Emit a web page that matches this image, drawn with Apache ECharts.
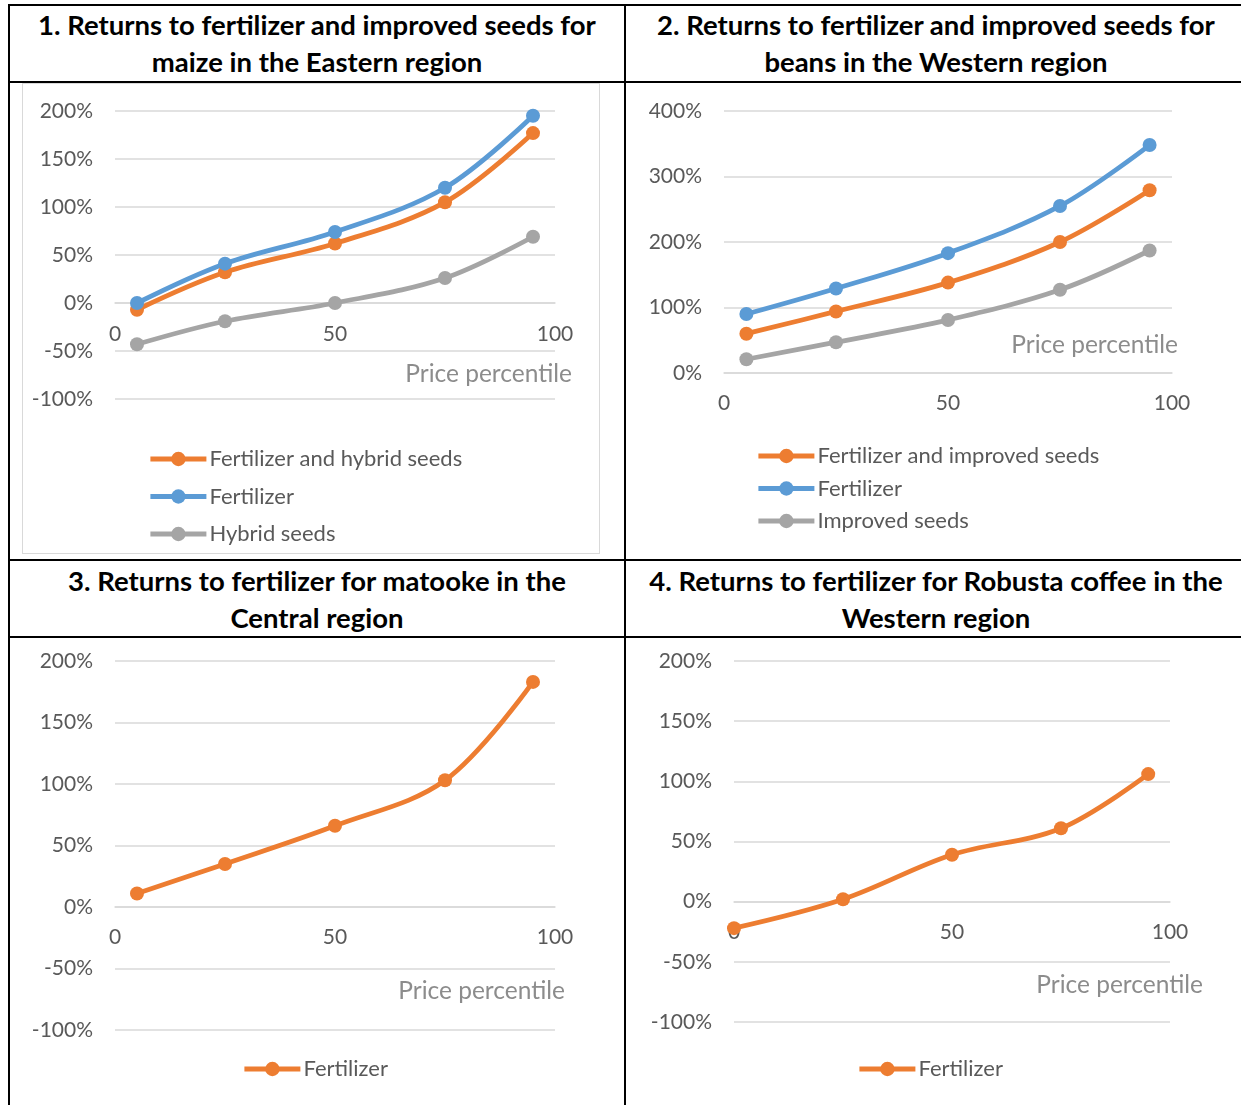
<!DOCTYPE html>
<html>
<head>
<meta charset="utf-8">
<script src="https://cdn.jsdelivr.net/npm/echarts@6/dist/echarts.min.js"></script>
<style>
  html, body { margin: 0; padding: 0; background: #fff; }
  body { width: 1241px; height: 1105px; position: relative; overflow: hidden; font-family: Lato, "Noto Sans", sans-serif; }
  .rule { position: absolute; background: #000; }
  .title { position: absolute; text-align: center; font-weight: 700; font-size: 27.5px; line-height: 37px; color: #000; white-space: nowrap; }
  .cell { position: absolute; }
  .frame { position: absolute; border: 1.5px solid #d9d9d9; box-sizing: border-box; }
</style>
</head>
<body>
<!-- table frame -->
<div class="rule" style="left:8px; top:4px; width:1240px; height:2px;"></div>
<div class="rule" style="left:8px; top:81px; width:1240px; height:2px;"></div>
<div class="rule" style="left:8px; top:559px; width:1240px; height:2px;"></div>
<div class="rule" style="left:8px; top:636px; width:1240px; height:2px;"></div>
<div class="rule" style="left:8px; top:4px; width:2px; height:1101px;"></div>
<div class="rule" style="left:624px; top:4px; width:2px; height:1101px;"></div>

<div class="title" id="t1" style="left:10px; top:6px; width:614px;"></div>
<div class="title" id="t2" style="left:626px; top:6px; width:620px;"></div>
<div class="title" id="t3" style="left:10px; top:562px; width:614px;"></div>
<div class="title" id="t4" style="left:626px; top:562px; width:620px;"></div>

<div class="frame" style="left:22px; top:83px; width:578px; height:471px;"></div>

<div class="cell" id="c1" style="left:10px; top:83px; width:614px; height:476px;"></div>
<div class="cell" id="c2" style="left:627px; top:83px; width:614px; height:476px;"></div>
<div class="cell" id="c3" style="left:10px; top:639px; width:614px; height:466px;"></div>
<div class="cell" id="c4" style="left:627px; top:639px; width:614px; height:466px;"></div>

<script>
// Panel titles (two lines each)
const titles = [
  ['1. Returns to fertilizer and improved seeds for', 'maize in the Eastern region'],
  ['2. Returns to fertilizer and improved seeds for', 'beans in the Western region'],
  ['3. Returns to fertilizer for matooke in the', 'Central region'],
  ['4. Returns to fertilizer for Robusta coffee in the', 'Western region']
];

// Price percentiles at which returns were computed
const percentiles = [5, 25, 50, 75, 95];
const percentilesCoffee = [0, 25, 50, 75, 95];

// Returns (%) — maize, Eastern region
const maizeFertHybrid = [-7, 32, 62, 105, 177];
const maizeFert = [0, 41, 74, 120, 195];
const maizeHybrid = [-43, -19, 0, 26, 69];

// Returns (%) — beans, Western region
const beansFertImproved = [60, 94, 138, 200, 279];
const beansFert = [90, 129, 183, 255, 348];
const beansImproved = [21, 47, 81, 127, 187];

// Returns (%) — matooke, Central region
const matookeFert = [11, 35, 66, 103, 183];

// Returns (%) — Robusta coffee, Western region
const coffeeFert = [-22, 2, 39, 61, 106];

// Axis ranges [min, max, step]
const xRange = [0, 100, 50];
const yRangeDefault = [-100, 200, 50];
const yRangeBeans = [0, 400, 100];

const xAxisName = 'Price percentile';

const ORANGE = '#ED7D31', BLUE = '#5B9BD5', GRAY = '#A5A5A5';
const GRID = '#d9d9d9', LABEL = '#595959', NAME = '#8c8c8c';
const FONT = 'Lato';

titles.forEach((t, i) => {
  document.getElementById('t' + (i + 1)).innerHTML = t.join('<br>');
});

function pairs(xs, ys) { return xs.map((x, i) => [x, ys[i]]); }

function lineSeries(name, color, xs, ys) {
  return {
    type: 'line', name: name, data: pairs(xs, ys),
    smooth: 0.35, clip: false,
    symbol: 'circle', symbolSize: 14,
    lineStyle: { color: color, width: 4.8 },
    itemStyle: { color: color },
    emphasis: { disabled: true }
  };
}

function buildOption(cfg) {
  const [gl, gt, gw, gh] = cfg.grid;
  const [yMin, yMax, yStep] = cfg.y;
  // the horizontal axis crosses the value axis at 0%
  const zeroOffset = -gh * (0 - yMin) / (yMax - yMin);
  return {
    animation: false,
    textStyle: { fontFamily: FONT },
    grid: { left: gl, top: gt, width: gw, height: gh, containLabel: false },
    xAxis: {
      type: 'value', min: xRange[0], max: xRange[1], interval: xRange[2],
      position: 'bottom', offset: zeroOffset,
      axisLine: { show: true, onZero: false, lineStyle: { color: GRID, width: 1.5 } },
      axisTick: { show: false },
      splitLine: { show: false },
      axisLabel: { color: LABEL, fontSize: 21, fontFamily: FONT, margin: cfg.xMargin }
    },
    yAxis: {
      type: 'value', min: yMin, max: yMax, interval: yStep,
      axisLine: { show: false }, axisTick: { show: false },
      splitLine: { show: true, lineStyle: { color: GRID, width: 1.5 } },
      axisLabel: { color: LABEL, fontSize: 21, fontFamily: FONT, margin: 22, formatter: '{value}%' }
    },
    legend: {
      orient: 'vertical', left: cfg.legend[0], top: cfg.legend[1], padding: 0,
      itemWidth: 56, itemHeight: 18, itemGap: cfg.legendGap,
      selectedMode: false,
      lineStyle: { width: 4.8 },
      textStyle: { color: LABEL, fontSize: 22, lineHeight: 24, fontFamily: FONT, padding: [0, 0, 0, -2] },
      data: cfg.series.map(s => s.name)
    },
    graphic: [{
      type: 'text', silent: true,
      style: {
        text: xAxisName, x: cfg.name[0], y: cfg.name[1],
        align: 'right', verticalAlign: 'middle',
        fill: NAME, fontSize: 24.5, fontFamily: FONT
      }
    }],
    series: cfg.series
  };
}

const panels = [
  {
    id: 'c1', grid: [105, 28, 440, 288], y: yRangeDefault, xMargin: 21,
    name: [562, 291], legend: [138, 364], legendGap: 13.5,
    series: [
      lineSeries('Fertilizer and hybrid seeds', ORANGE, percentiles, maizeFertHybrid),
      lineSeries('Fertilizer', BLUE, percentiles, maizeFert),
      lineSeries('Hybrid seeds', GRAY, percentiles, maizeHybrid)
    ]
  },
  {
    id: 'c2', grid: [97, 28, 448, 262], y: yRangeBeans, xMargin: 20,
    name: [551, 262], legend: [129, 361], legendGap: 8.5,
    series: [
      lineSeries('Fertilizer and improved seeds', ORANGE, percentiles, beansFertImproved),
      lineSeries('Fertilizer', BLUE, percentiles, beansFert),
      lineSeries('Improved seeds', GRAY, percentiles, beansImproved)
    ]
  },
  {
    id: 'c3', grid: [105, 22, 440, 369], y: yRangeDefault, xMargin: 20,
    name: [555, 352], legend: [232, 418], legendGap: 10,
    series: [lineSeries('Fertilizer', ORANGE, percentiles, matookeFert)]
  },
  {
    id: 'c4', grid: [107, 22, 436, 361], y: yRangeDefault, xMargin: 20,
    name: [576, 346], legend: [230, 418], legendGap: 10,
    series: [lineSeries('Fertilizer', ORANGE, percentilesCoffee, coffeeFert)]
  }
];

panels.forEach(p => {
  const chart = echarts.init(document.getElementById(p.id), null, { renderer: 'canvas' });
  chart.setOption(buildOption(p));
});
</script>
</body>
</html>
